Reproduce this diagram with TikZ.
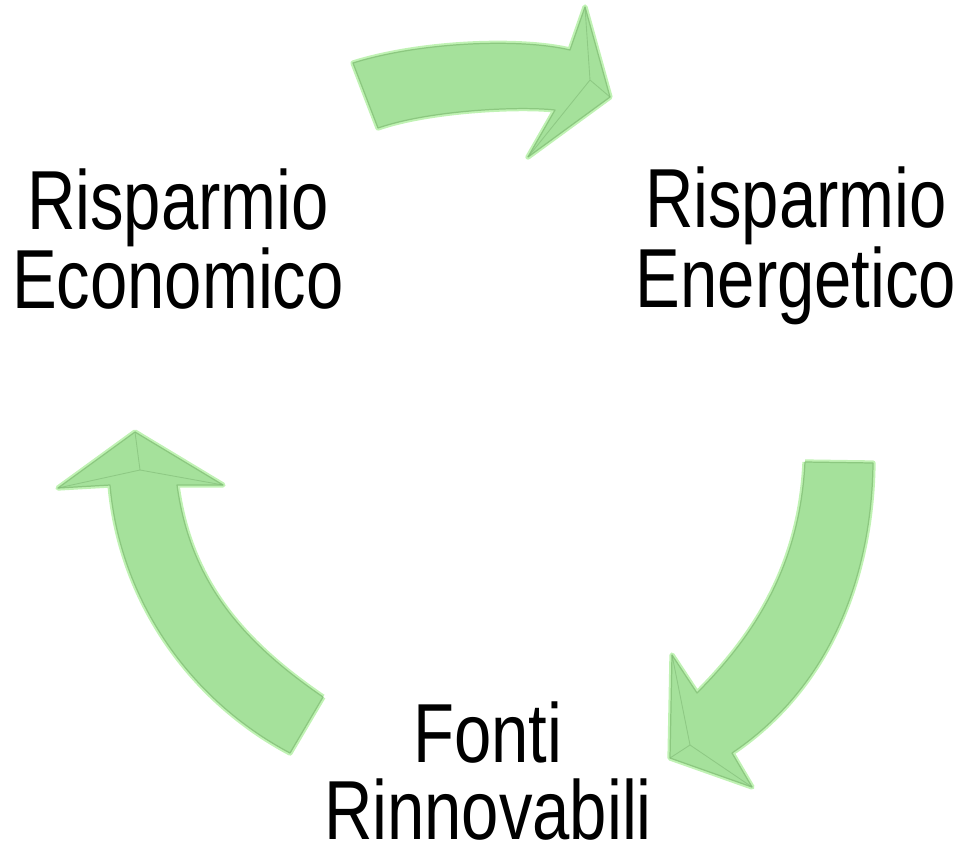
\documentclass[tikz,border=0pt]{standalone}
\usepackage{fontspec}
\setmainfont[FakeStretch=0.8]{Liberation Sans}
\usepackage{tikz}
\usepackage{xcolor}

\definecolor{arrowfill}{RGB}{165,225,155}
\definecolor{arrowline}{RGB}{140,200,128}
\definecolor{arrowglow}{RGB}{192,242,180}
\definecolor{arrowdark}{RGB}{128,186,118}

\begin{document}
\begin{tikzpicture}[x=0.02cm,y=-0.02cm,line join=round]
  \tikzstyle{every node}=[align=center,inner sep=0pt]
  \tikzstyle{cycletext}=[font=\fontsize{47.7pt}{44.3pt}\selectfont,text=black]
  \tikzstyle{cyclearrow}=[fill=arrowfill,draw=arrowline,line width=0.7pt,
                          preaction={draw=arrowglow,line width=3pt}]
  \tikzstyle{bevel}=[draw=arrowdark,line width=0.5pt,opacity=0.6]

  \useasboundingbox (0,0) rectangle (967,846);

  \node[cycletext] (econ) at (178,239)   {Risparmio\\Economico};
  \node[cycletext] (ener) at (796,246)   {Risparmio\\Energetico};
  \node[cycletext] (fonti) at (488,771)  {Fonti\\Rinnovabili};

  % economico -> energetico
  \path[cyclearrow] (353,63) .. controls (420,42) and (520,38) .. (570,50)
        -- (585,7) -- (610,97) -- (528,157) -- (555,110)
        .. controls (520,106) and (430,110) .. (378,128) -- cycle;
  \path[bevel] (585,7) -- (590,80) -- (610,97) (590,80) -- (528,157);

  % energetico -> fonti
  \path[cyclearrow] (805,462) -- (873,463)
        .. controls (872,560) and (840,680) .. (732,753)
        -- (752,787) -- (670,758) -- (672,655) -- (697,693)
        .. controls (760,630) and (800,560) .. (805,462);
  \path[bevel] (672,655) -- (690,745) -- (752,787) (690,745) -- (670,758);

  % fonti -> economico
  \path[cyclearrow] (323,697) -- (290,753)
        .. controls (190,700) and (120,600) .. (110,485)
        -- (58,488) -- (135,432) -- (223,485) -- (177,485)
        .. controls (190,580) and (240,640) .. (323,697);
  \path[bevel] (58,488) -- (140,470) -- (223,485) (140,470) -- (135,432);
\end{tikzpicture}
\end{document}
